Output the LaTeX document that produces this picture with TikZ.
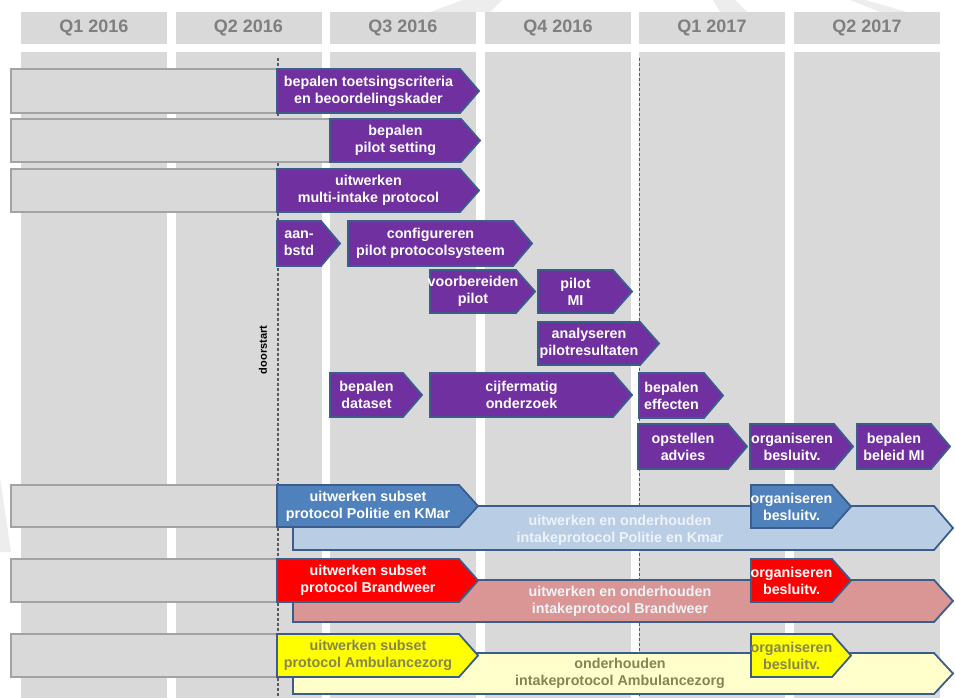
\documentclass[tikz,border=0pt]{standalone}
\usepackage{fontspec}
\setmainfont{Liberation Sans}
\definecolor{colgray}{HTML}{D9D9D9}
\definecolor{bargray}{HTML}{D9D9D9}
\definecolor{barline}{HTML}{A3A3A3}
\definecolor{headtext}{HTML}{7F7F7F}
\definecolor{purp}{HTML}{7030A0}
\definecolor{edge}{HTML}{3A5D8C}
\definecolor{bluebox}{HTML}{4F81BD}
\definecolor{lightblue}{HTML}{B9CDE5}
\definecolor{redbox}{HTML}{FF0000}
\definecolor{pinkbox}{HTML}{D99694}
\definecolor{yellowbox}{HTML}{FFFF00}
\definecolor{lightyellow}{HTML}{FFFFCC}
\definecolor{olivetext}{HTML}{858550}
\definecolor{paletext}{HTML}{EEF3FA}
\definecolor{wmark}{HTML}{EDEDED}
\definecolor{dashgray}{HTML}{5A5A5A}
\tikzset{
  shp/.style={draw=edge, line width=1.8pt, line join=miter},
  purpshape/.style={shp, fill=purp},
  blueshape/.style={shp, fill=bluebox},
  redshape/.style={shp, fill=redbox},
  yellowshape/.style={shp, fill=yellowbox},
  lbshape/.style={shp, fill=lightblue},
  pinkshape/.style={shp, fill=pinkbox},
  lyshape/.style={shp, fill=lightyellow},
  graybar/.style={draw=barline, fill=bargray, line width=1.8pt},
  boxtext/.style={font=\bfseries\fontsize{14.3}{17}\selectfont, align=center, inner sep=0pt, text=white},
  olive/.style={boxtext, text=olivetext},
  pale/.style={boxtext, text=paletext},
  headtxt/.style={font=\bfseries\fontsize{18}{20}\selectfont, text=headtext, inner sep=0pt},
  dashline/.style={draw=dashgray, line width=1.3pt, dash pattern=on 3pt off 2pt},
}
% name, x1, y1, xtip, y2, shape style, text style, text
\newcommand{\mytask}[8]{%
  \path[#6] (#2,#3) -- ({#4-19},#3) -- (#4,{(#3+#5)/2}) -- ({#4-19},#5) -- (#2,#5) -- cycle;
  \node[#7] (#1) at ({(#2+#4-19)/2},{(#3+#5)/2}) {#8};
}
\newcommand{\myshape}[5]{%
  \path[#5] (#1,#2) -- ({#3-19},#2) -- (#3,{(#2+#4)/2}) -- ({#3-19},#4) -- (#1,#4) -- cycle;
}
\begin{document}
\begin{tikzpicture}[x=1pt,y=-1pt]
\useasboundingbox (0,0) rectangle (955,698);
\fill[white] (0,0) rectangle (955,698);
% faint watermark bands
\fill[wmark] (430,12) -- (463,0) -- (502,0) -- (490,12) -- cycle;
\fill[wmark] (713,0) -- (735,0) -- (747,12) -- (720,12) -- cycle;
\fill[wmark] (850,0) -- (865,0) -- (907,12) -- (880,12) -- cycle;
\fill[wmark] (0,478) -- (11,552) -- (0,552) -- cycle;
% columns
\foreach \cx in {21,176,330,485,639,794}{
  \fill[colgray] (\cx,12) rectangle ++(146,32);
  \fill[colgray] (\cx,52) rectangle ++(146,646);
}
\node[headtxt] (h1) at (94,28) {Q1 2016};
\node[headtxt] (h2) at (248.5,28) {Q2 2016};
\node[headtxt] (h3) at (403,28) {Q3 2016};
\node[headtxt] (h4) at (558,28) {Q4 2016};
\node[headtxt] (h5) at (712,28) {Q1 2017};
\node[headtxt] (h6) at (867,28) {Q2 2017};
% dashed milestone lines
\coordinate (d1t) at (278,58);
\coordinate (d1b) at (278,698);
\coordinate (d2t) at (639.5,58);
\coordinate (d2b) at (639.5,698);
\draw[dashline] (d1t) -- (d1b);
\draw[dashline] (d2t) -- (d2b);
\node[rotate=90, font=\bfseries\fontsize{11}{13}\selectfont, inner sep=0pt] (doorstart) at (263,350) {doorstart};
% gray history bars
\path[graybar] (11,69) rectangle (277,113);
\path[graybar] (11,119) rectangle (330,162);
\path[graybar] (11,169) rectangle (277,212);
\path[graybar] (11,485) rectangle (277,527);
\path[graybar] (11,559) rectangle (277,602);
\path[graybar] (11,634) rectangle (277,677);
% purple tasks
\mytask{toets}{277}{69}{479}{113}{purpshape}{boxtext}{bepalen toetsingscriteria\\en beoordelingskader}
\mytask{setting}{330}{119}{480}{162}{purpshape}{boxtext}{bepalen\\pilot setting}
\mytask{multi}{277}{169}{479}{212}{purpshape}{boxtext}{uitwerken\\multi-intake protocol}
\mytask{aan}{277}{221}{340}{266}{purpshape}{boxtext}{aan-\\bstd}
\mytask{config}{348}{221}{532}{266}{purpshape}{boxtext}{configureren\\pilot protocolsysteem}
\mytask{voorb}{430}{270}{535}{313}{purpshape}{boxtext}{voorbereiden\\pilot}
\mytask{pilotmi}{538}{270}{632}{313}{purpshape}{boxtext}{pilot\\MI}
\mytask{analyse}{538}{322}{659}{365}{purpshape}{boxtext}{analyseren\\pilotresultaten}
\mytask{dataset}{330}{373}{422}{417}{purpshape}{boxtext}{bepalen\\dataset}
\mytask{cijfer}{430}{373}{632}{417}{purpshape}{boxtext}{cijfermatig\\onderzoek}
\mytask{effecten}{639}{373}{723}{418}{purpshape}{boxtext}{bepalen\\effecten}
\mytask{advies}{638}{424}{747}{469}{purpshape}{boxtext}{opstellen\\advies}
\mytask{orgmi}{750}{424}{853}{469}{purpshape}{boxtext}{organiseren\\besluitv.}
\mytask{beleid}{857}{424}{950}{469}{purpshape}{boxtext}{bepalen\\beleid MI}
% Politie en KMar
\myshape{293}{506}{953}{550}{lbshape}
\node[pale] (polong) at (620,530) {uitwerken en onderhouden\\intakeprotocol Politie en Kmar};
\mytask{posub}{277}{485}{478}{527}{blueshape}{boxtext}{uitwerken subset\\protocol Politie en KMar}
\mytask{poorg}{751}{485}{851}{528}{blueshape}{boxtext}{organiseren\\besluitv.}
% Brandweer
\myshape{293}{580}{953}{622}{pinkshape}
\node[pale] (brlong) at (620,601) {uitwerken en onderhouden\\intakeprotocol Brandweer};
\mytask{brsub}{277}{559}{478}{602}{redshape}{boxtext}{uitwerken subset\\protocol Brandweer}
\mytask{brorg}{751}{559}{851}{602}{redshape}{boxtext}{organiseren\\besluitv.}
% Ambulancezorg
\myshape{293}{653}{953}{694}{lyshape}
\node[olive] (amlong) at (620,673) {onderhouden\\intakeprotocol Ambulancezorg};
\mytask{amsub}{277}{634}{478}{677}{yellowshape}{olive}{uitwerken subset\\protocol Ambulancezorg}
\mytask{amorg}{751}{634}{851}{677}{yellowshape}{olive}{organiseren\\besluitv.}
\end{tikzpicture}
\end{document}
